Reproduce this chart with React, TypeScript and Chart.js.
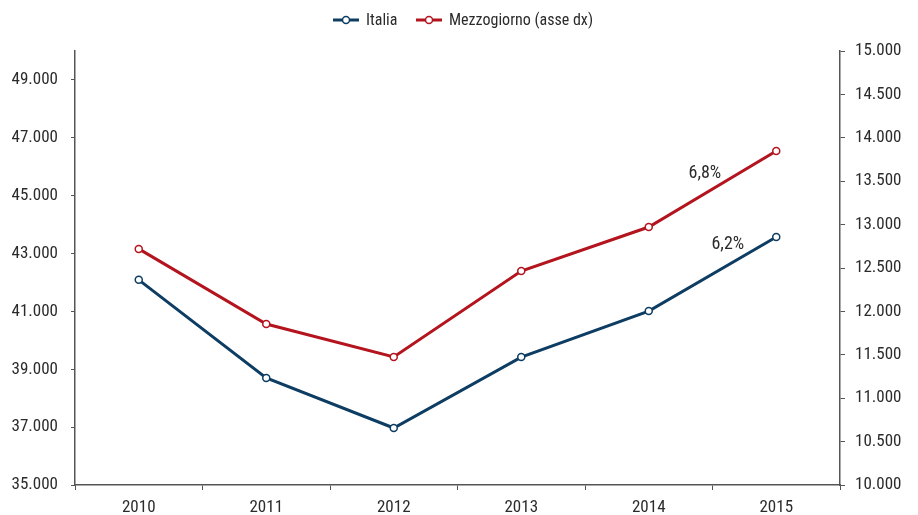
import React, { useEffect, useRef } from "react";
import { Chart, registerables } from "chart.js";

Chart.register(...registerables);

const years = ["2010", "2011", "2012", "2013", "2014", "2015"];
const italia = [42090, 38700, 36970, 39420, 41010, 43570];
const mezzogiorno = [12720, 11855, 11475, 12465, 12972, 13848];
const seriesNames = ["Italia", "Mezzogiorno (asse dx)"];
const growthLabels = ["6,2%", "6,8%"];
const colors = ["#0e3d63", "#b3141e"];

const FONT = "'Roboto Condensed', sans-serif";
const TEXT = "#2b2b2b";

const fmt = (v: number) => String(Math.round(v)).replace(/\B(?=(\d{3})+(?!\d))/g, ".");

const customPlugin = {
  id: "custom",
  afterDraw(chart: any) {
    const ctx = chart.ctx;
    ctx.save();
    // legend
    ctx.font = `16px ${FONT}`;
    ctx.textBaseline = "middle";
    const ly = 20;
    const items = [
      { x: 333, label: seriesNames[0], color: colors[0] },
      { x: 416, label: seriesNames[1], color: colors[1] },
    ];
    items.forEach((it) => {
      ctx.strokeStyle = it.color;
      ctx.lineWidth = 3;
      ctx.beginPath();
      ctx.moveTo(it.x, ly);
      ctx.lineTo(it.x + 26, ly);
      ctx.stroke();
      ctx.beginPath();
      ctx.fillStyle = "#fff";
      ctx.lineWidth = 1.5;
      ctx.arc(it.x + 13, ly, 3.5, 0, Math.PI * 2);
      ctx.fill();
      ctx.stroke();
      ctx.fillStyle = TEXT;
      ctx.textAlign = "left";
      ctx.fillText(it.label, it.x + 33, ly + 1);
    });
    // growth labels
    const xs = chart.scales.x;
    const x4 = xs.getPixelForValue(4);
    const x5 = xs.getPixelForValue(5);
    const yl = chart.scales.y;
    const yr = chart.scales.y1;
    ctx.textAlign = "center";
    ctx.font = `18px ${FONT}`;
    {
      const f = 0.62;
      const y4 = yl.getPixelForValue(italia[4]);
      const y5 = yl.getPixelForValue(italia[5]);
      ctx.fillText(growthLabels[0], x4 + f * (x5 - x4), y4 + f * (y5 - y4) - 21);
    }
    {
      const f = 0.44;
      const y4 = yr.getPixelForValue(mezzogiorno[4]);
      const y5 = yr.getPixelForValue(mezzogiorno[5]);
      ctx.fillText(growthLabels[1], x4 + f * (x5 - x4), y4 + f * (y5 - y4) - 20);
    }
    ctx.restore();
  },
};

export default function App() {
  const ref = useRef<HTMLCanvasElement>(null);
  useEffect(() => {
    document.body.style.margin = "0";
    const ds = (label: string, data: number[], color: string, axis: string) => ({
      label,
      data,
      yAxisID: axis,
      borderColor: color,
      backgroundColor: "#fff",
      borderWidth: 3,
      pointRadius: 3.5,
      pointBorderWidth: 1.5,
      pointBackgroundColor: "#fff",
      pointBorderColor: color,
      tension: 0,
    });
    const chart = new Chart(ref.current!, {
      type: "line",
      data: {
        labels: years,
        datasets: [
          ds(seriesNames[0], italia, colors[0], "y"),
          ds(seriesNames[1], mezzogiorno, colors[1], "y1"),
        ],
      },
      options: {
        animation: false,
        responsive: false,
        layout: { padding: { top: 51, left: 0, right: 0, bottom: 0 } },
        plugins: { legend: { display: false }, tooltip: { enabled: false } },
        scales: {
          x: {
            offset: true,
            grid: { display: true, drawOnChartArea: false, offset: true, color: "#555", tickLength: 5, lineWidth: 1 },
            border: { display: true, color: "#555", width: 1.5 },
            ticks: { color: TEXT, font: { family: FONT, size: 17 }, padding: 8 },
            afterFit: (s: any) => { s.height = 30; },
          },
          y: {
            position: "left",
            min: 35000,
            max: 50000,
            afterBuildTicks: (s: any) => {
              const t = [];
              for (let v = 35000; v <= 49000; v += 2000) t.push({ value: v });
              s.ticks = t;
            },
            grid: { display: true, drawOnChartArea: false, color: "#555", tickLength: 4 },
            border: { display: true, color: "#555", width: 1.5 },
            ticks: { color: TEXT, font: { family: FONT, size: 17 }, padding: 13, callback: (v: any) => fmt(v) },
            afterFit: (s: any) => { s.width = 75; },
          },
          y1: {
            position: "right",
            min: 10000,
            max: 15000,
            ticks: { stepSize: 500, color: TEXT, font: { family: FONT, size: 17 }, padding: 10, callback: (v: any) => fmt(v) },
            grid: { display: true, drawOnChartArea: false, color: "#555", tickLength: 5 },
            border: { display: true, color: "#555", width: 1.5 },
            afterFit: (s: any) => { s.width = 78; },
          },
        },
      },
      plugins: [customPlugin],
    });
    return () => chart.destroy();
  }, []);
  return (
    <div style={{ position: "absolute", left: 0, top: 0, width: 918, height: 515 }}>
      <canvas ref={ref} width={918} height={515} style={{ width: 918, height: 515 }} />
    </div>
  );
}
